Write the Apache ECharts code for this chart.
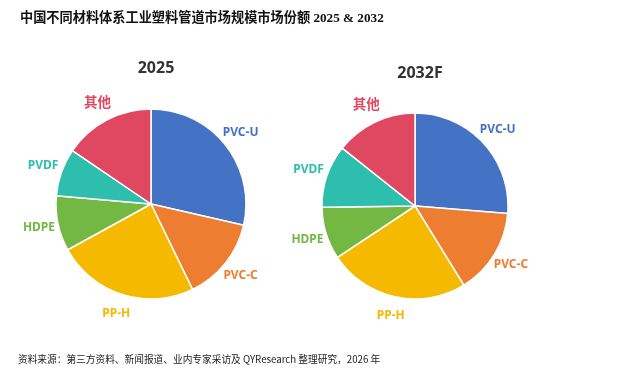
<!DOCTYPE html>
<html><head><meta charset="utf-8">
<script src="https://cdn.jsdelivr.net/npm/echarts@6/dist/echarts.min.js"></script>
<style>html,body{margin:0;padding:0;background:#fff}#c{width:634px;height:372px}</style>
</head><body><div id="c"></div>
<script>
var categories = ['PVC-U', 'PVC-C', 'PP-H', 'HDPE', 'PVDF', '其他'];
var share2025 = [28.6, 14.2, 24.2, 9.4, 8.1, 15.5];
var share2032 = [26.3, 14.9, 24.5, 9.1, 10.9, 14.3];
var pieTitles = ['2025', '2032F'];
var colors = ['#4472C4', '#ED7D31', '#F5BA00', '#72B843', '#2EBEAE', '#E04760'];

function buildData(vals, labelsOnly) {
  return categories.map(function (c, i) {
    return {
      name: c, value: vals[i],
      itemStyle: { color: labelsOnly ? 'rgba(0,0,0,0)' : colors[i] },
      label: { color: colors[i], fontSize: c === '其他' ? 13.5 : 12 }
    };
  });
}
function pie(vals, center, r) {
  return {
    type: 'pie', center: center, radius: r, startAngle: 90, clockwise: true,
    avoidLabelOverlap: false, silent: true,
    data: buildData(vals, false),
    itemStyle: { borderColor: '#fff', borderWidth: 1.5 },
    label: { show: false },
    labelLine: { show: false }
  };
}
function labelRing(vals, center, r0, r1) {
  return {
    type: 'pie', center: center, radius: [r0, r1], startAngle: 90, clockwise: true,
    avoidLabelOverlap: false, silent: true, z: 5,
    data: buildData(vals, true),
    itemStyle: { borderWidth: 0 },
    label: { show: true, position: 'inside', formatter: '{b}', fontWeight: 'bold',
      fontFamily: '"Noto Sans","Noto Sans CJK SC",sans-serif' },
    labelLine: { show: false }
  };
}
var chart = echarts.init(document.getElementById('c'), null, { renderer: 'canvas' });
chart.setOption({
  backgroundColor: '#fff',
  animation: false,
  title: [
    { text: '中国不同材料体系工业塑料管道市场规模市场份额 2025 & 2032', left: 15, top: 7,
      textStyle: { fontSize: 13.2, fontWeight: 'bold', color: '#111', fontFamily: '"Liberation Serif","Noto Sans CJK SC",serif' } },
    { text: pieTitles[0], left: 151, top: 55, textAlign: 'center',
      textStyle: { fontSize: 16, fontWeight: 'bold', color: '#333', fontFamily: '"Noto Sans",sans-serif' } },
    { text: pieTitles[1], left: 415, top: 60, textAlign: 'center',
      textStyle: { fontSize: 16, fontWeight: 'bold', color: '#333', fontFamily: '"Noto Sans",sans-serif' } },
    { text: '资料来源：第三方资料、新闻报道、业内专家采访及 QYResearch 整理研究，2026 年', left: 13, top: 349,
      textStyle: { fontSize: 9.7, fontWeight: 'normal', color: '#222', fontFamily: '"Noto Sans CJK SC",sans-serif' } }
  ],
  series: [
    pie(share2025, [151, 204], 95), pie(share2032, [415, 206], 93),
    labelRing(share2025, [151, 204], 99, 124), labelRing(share2032, [415, 206], 97, 122)
  ]
});
</script></body></html>
